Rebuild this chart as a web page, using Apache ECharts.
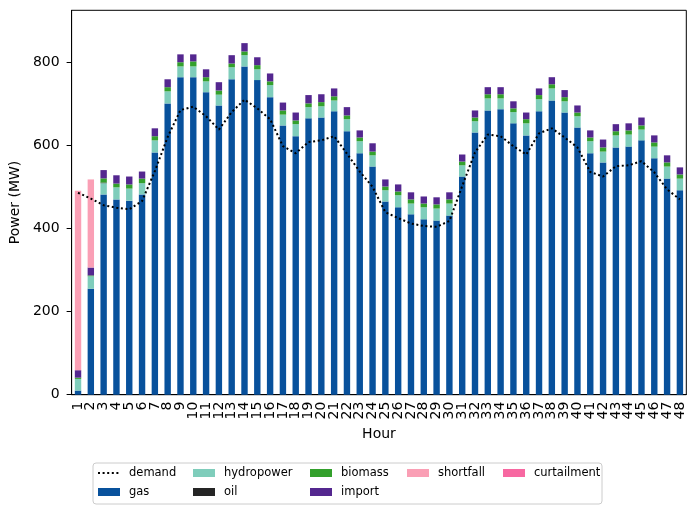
<!DOCTYPE html>
<html>
<head>
<meta charset="utf-8">
<script src="https://cdn.jsdelivr.net/npm/echarts@6/dist/echarts.min.js"></script>
<style>
  html, body { margin: 0; padding: 0; background: #fff; }
  #chart { width: 696px; height: 514px; }
</style>
</head>
<body>
<div id="chart"></div>
<script>
// hours 1..48
var hours = []
for (var h = 1; h <= 48; h++) hours.push(String(h))

// MW per source
var gas = [10, 255, 482, 470, 467, 482, 583, 701, 764, 764, 728, 696, 759, 790, 757, 716,
  648, 622, 665, 667, 682, 634, 581, 549, 465, 451, 434, 422, 419, 431, 525, 631,
  684, 687, 653, 624, 682, 708, 679, 643, 581, 559, 595, 597, 612, 569, 520, 492]
var hydropower = [28, 30, 27, 29, 29, 27, 29, 29, 26, 26, 26, 26, 29, 27, 26, 29,
  26, 29, 27, 27, 26, 29, 29, 27, 27, 29, 26, 29, 29, 29, 27, 27,
  29, 26, 27, 29, 29, 29, 27, 27, 29, 26, 29, 29, 26, 28, 29, 28]
var oil = [0, 0, 1.5, 0, 0, 0, 0, 0, 0, 0, 0, 0, 0, 0, 0, 0,
  0, 0, 0, 0, 0, 0, 0, 0, 0, 0, 0, 0, 0, 0, 0, 0,
  0, 0, 0, 0, 0, 0, 0, 0, 0, 0, 0, 0, 0, 0, 0, 0]
var biomass = [3, 2, 10, 9, 10, 11, 10, 10, 10, 12, 10, 10, 9, 9, 10, 9,
  10, 9, 9, 10, 10, 9, 9, 9, 9, 9, 10, 9, 10, 10, 9, 9,
  10, 10, 9, 10, 10, 10, 10, 9, 9, 10, 10, 10, 10, 10, 10, 10]
var imports = [18, 19, 20, 20, 19, 17, 19, 19, 19, 17, 19, 20, 20, 20, 19, 19,
  19, 19, 20, 19, 19, 20, 17, 20, 17, 17, 17, 17, 17, 17, 17, 17,
  17, 17, 17, 16, 16, 17, 17, 17, 17, 19, 17, 17, 19, 17, 17, 17]
var shortfall = [432, 212, 0, 0, 0, 0, 0, 0, 0, 0, 0, 0, 0, 0, 0, 0,
  0, 0, 0, 0, 0, 0, 0, 0, 0, 0, 0, 0, 0, 0, 0, 0,
  0, 0, 0, 0, 0, 0, 0, 0, 0, 0, 0, 0, 0, 0, 0, 0]
var curtailment = [0, 0, 0, 0, 0, 0, 0, 0, 0, 0, 0, 0, 0, 0, 0, 0,
  0, 0, 0, 0, 0, 0, 0, 0, 0, 0, 0, 0, 0, 0, 0, 0,
  0, 0, 0, 0, 0, 0, 0, 0, 0, 0, 0, 0, 0, 0, 0, 0]
var demand = [486, 472, 456, 450, 446, 466, 538, 620, 685, 693, 670, 638, 680, 710, 689, 663,
  598, 581, 608, 612, 622, 580, 537, 500, 439, 425, 412, 406, 404, 418, 502, 583,
  626, 622, 598, 578, 629, 641, 619, 595, 536, 525, 550, 552, 562, 535, 494, 470]

var yTicks = [0, 200, 400, 600, 800]

var font = "DejaVu Sans"
var chart = echarts.init(document.getElementById("chart"), null, { renderer: "canvas" })

function barSeries(name, data, color) {
  return {
    name: name,
    type: "bar",
    stack: "supply",
    data: data,
    barWidth: "50%",
    itemStyle: { color: color },
    emphasis: { disabled: true }
  }
}

// one legend per column, like matplotlib's ncol layout
function legendCol(names, left) {
  return {
    data: names.map(function (n) {
      // the line icon gets a circle marker by default, hide it
      return n === "demand" ? { name: n, itemStyle: { opacity: 0 } } : { name: n, icon: "rect" }
    }),
    orient: "vertical",
    left: left,
    top: 466,
    padding: 0,
    itemWidth: 22,
    itemHeight: 8,
    itemGap: 5,
    selectedMode: false,
    textStyle: { fontFamily: font, fontSize: 11.5, color: "#000", lineHeight: 14, padding: [0, 0, 0, 4] }
  }
}

var option = {
  animation: false,
  backgroundColor: "#fff",
  grid: {
    left: 66.7, right: 9.7, top: 10.3, bottom: 119.3,
    show: true, borderColor: "#000", borderWidth: 1
  },
  legend: [
    legendCol(["demand", "gas"], 97),
    legendCol(["hydropower", "oil"], 193),
    legendCol(["biomass", "import"], 310),
    legendCol(["shortfall"], 407),
    legendCol(["curtailment"], 503)
  ],
  graphic: [{
    type: "rect",
    z: -1,
    shape: { x: 93, y: 463, width: 509, height: 41, r: 3 },
    style: { fill: "#fff", stroke: "#cccccc", lineWidth: 1 }
  }],
  xAxis: {
    type: "category",
    data: hours,
    name: "Hour",
    nameLocation: "middle",
    nameGap: 32,
    nameTextStyle: { fontFamily: font, fontSize: 14, color: "#000" },
    axisLine: { lineStyle: { color: "#000", width: 1 } },
    axisTick: { alignWithLabel: true, length: 5, lineStyle: { color: "#000" } },
    axisLabel: { interval: 0, rotate: 90, margin: 7, fontFamily: font, fontSize: 14, color: "#000" }
  },
  yAxis: {
    type: "value",
    min: 0,
    max: 925,
    interval: 200,
    name: "Power (MW)",
    nameLocation: "middle",
    nameGap: 42,
    nameTextStyle: { fontFamily: font, fontSize: 14, color: "#000" },
    splitLine: { show: false },
    axisLine: { show: true, lineStyle: { color: "#000", width: 1 } },
    axisTick: { show: true, length: 5, lineStyle: { color: "#000" }, customValues: yTicks },
    axisLabel: { margin: 12, fontFamily: font, fontSize: 14, color: "#000", customValues: yTicks }
  },
  series: [
    barSeries("gas", gas, "#08519c"),
    barSeries("hydropower", hydropower, "#7fcdbb"),
    barSeries("oil", oil, "#252525"),
    barSeries("biomass", biomass, "#33a02c"),
    barSeries("import", imports, "#54278f"),
    barSeries("shortfall", shortfall, "#fa9fb5"),
    barSeries("curtailment", curtailment, "#f768a1"),
    {
      name: "demand",
      type: "line",
      data: demand,
      z: 5,
      symbol: "none",
      lineStyle: { color: "#000", width: 2, type: [2, 2.6] },
      itemStyle: { color: "#000" },
      emphasis: { disabled: true }
    }
  ]
}

chart.setOption(option)
</script>
</body>
</html>
